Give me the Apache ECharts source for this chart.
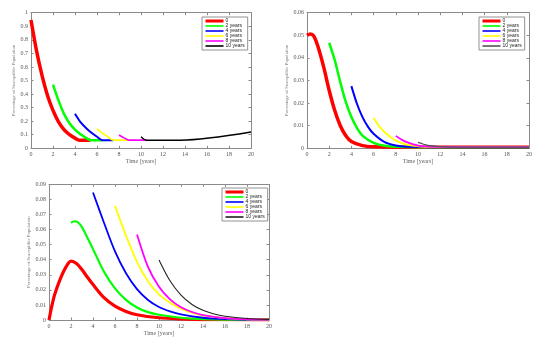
<!DOCTYPE html>
<html><head><meta charset="utf-8">
<script src="https://cdn.jsdelivr.net/npm/echarts@6/dist/echarts.min.js"></script>
<style>html,body{margin:0;padding:0;background:#fff}#c{width:548px;height:344px}</style>
</head><body><div id="c"></div>
<script>
const names = ['0','2 years','4 years','6 years','8 years','10 years'];
const xTicks = {min:0, max:20, interval:2};
const yTicksA = {min:0, max:1, interval:0.1};
const yTicksB = {min:0, max:0.06, interval:0.01};
const yTicksC = {min:0, max:0.09, interval:0.01};
const xName = 'Time [years]';
const yName = 'Percentage of Susceptible Population';

// Panel A (top-left)
const A0  = [[0,.946],[.5,.72],[1,.538],[1.5,.39],[2,.28],[2.5,.195],[3,.138],[3.5,.101],[4,.075],[4.4,.06],[5.4,.06]];
const A2  = [[2,.47],[2.5,.353],[3,.254],[3.5,.185],[4,.138],[4.5,.103],[5,.077],[5.4,.06],[6.5,.06]];
const A4  = [[4,.255],[4.5,.193],[5,.15],[5.5,.114],[6,.085],[6.5,.06],[7.5,.06]];
const A6  = [[6,.145],[6.5,.111],[7,.085],[7.5,.06],[8.9,.06]];
const A8  = [[8,.098],[8.5,.075],[8.9,.06],[10.5,.06]];
const A10 = [[10,.085],[10.5,.06],[13.6,.06],[20,.12]];

// Panel B (top-right)
const B0  = [[0,.050],[.3,.0506],[.6,.0497],[1,.0448],[1.5,.036],[2,.0256],[2.5,.0167],[3,.0100],[3.5,.0056],[4,.0030],[5,.0012],[6,.0007],[8,.0005],[20,.0005]];
const B2  = [[2,.0467],[2.5,.039],[3,.0293],[3.5,.0204],[4,.0138],[4.5,.0090],[5,.0056],[6,.0024],[7,.0011],[8,.0007],[10,.0005],[20,.0005]];
const B4  = [[4,.0275],[4.5,.0197],[5,.0138],[5.5,.0095],[6,.0064],[7,.0027],[8,.0012],[9,.0007],[11,.0005],[20,.0005]];
const B6  = [[6,.0135],[6.5,.0098],[7,.0071],[8,.0034],[9,.0016],[10,.0009],[11,.0006],[20,.0005]];
const B8  = [[8,.0055],[8.5,.0039],[9,.0027],[10,.0012],[11,.0008],[12,.0006],[20,.0005]];
const B10 = [[10,.0026],[10.5,.0018],[11,.0012],[12,.0007],[13,.0005],[20,.0005]];

// Panel C (bottom)
const C0  = [[0,0],[.25,.009],[.5,.0165],[1,.0268],[1.5,.0346],[2,.039],[2.5,.0374],[3,.0333],[3.5,.0283],[4,.0235],[5,.0148],[6,.0092],[7,.0057],[8,.0035],[10,.0015],[12,.0007],[14,.0003],[20,.0001]];
const C2  = [[2,.0645],[2.3,.0655],[2.6,.065],[3,.0615],[4,.047],[5,.032],[6,.021],[7,.0134],[8,.0083],[9,.0052],[10,.0035],[12,.0015],[14,.0006],[20,.0001]];
const C4  = [[4,.0846],[5,.0645],[6,.0455],[7,.031],[8,.0205],[9,.0133],[10,.0086],[11,.0057],[12,.0037],[14,.0015],[16,.0006],[20,.0001]];
const C6  = [[6,.0757],[7,.056],[8,.0385],[9,.0255],[10,.017],[11,.0114],[12,.0075],[13,.0048],[14,.003],[16,.0012],[18,.0005],[20,.0002]];
const C8  = [[8,.0567],[9,.0352],[10,.022],[11,.0137],[12,.0085],[13,.0053],[14,.0033],[16,.0013],[18,.0005],[20,.0002]];
const C10 = [[10,.0398],[11,.026],[12,.0165],[13,.0103],[14,.0064],[15,.004],[16,.0025],[18,.001],[20,.0004]];

const panels = [
  {data:[A0,A2,A4,A6,A8,A10], y:yTicksA, grid:{left:31, top:12.7, width:220, height:135.6}, legend:{left:202, top:17}, colors:['#ff0000','#00ff00','#0000ff','#ffff00','#ff00ff','#000000'], widths:[3.5,2.5,2,1.6,1.6,1.5]},
  {data:[B0,B2,B4,B6,B8,B10], y:yTicksB, grid:{left:307, top:12.7, width:222, height:135.6}, legend:{left:479, top:17}, colors:['#ff0000','#00ff00','#0000ff','#ffff00','#ff00ff','#555555'], widths:[3.5,2.5,2,1.8,1.8,1.2]},
  {data:[C0,C2,C4,C6,C8,C10], y:yTicksC, grid:{left:49, top:184.3, width:220, height:135.7}, legend:{left:222, top:188}, colors:['#ff0000','#00ff00','#0000ff','#ffff00','#ff00ff','#222222'], widths:[3.2,2.2,1.8,1.8,1.8,1.1]}
];

const axisColor = '#8a8a8a';
const serif = 'Liberation Serif';
const grids=[], xAxes=[], yAxes=[], series=[], legends=[];
panels.forEach((p, gi) => {
  grids.push(Object.assign({containLabel:false}, p.grid));
  const common = {gridIndex:gi, type:'value', splitLine:{show:false},
    axisLine:{show:true, onZero:false, lineStyle:{color:axisColor, width:1}},
    axisTick:{show:true, inside:true, length:2.5, lineStyle:{color:axisColor}}};
  xAxes.push(Object.assign({}, common, xTicks, {position:'bottom', name:xName, nameLocation:'middle', nameGap:10,
    nameTextStyle:{fontSize:6, color:'#666', fontFamily:serif},
    axisLabel:{fontSize:6, color:'#555', margin:3, fontFamily:serif}}));
  xAxes.push(Object.assign({}, common, xTicks, {position:'top', axisLabel:{show:false}}));
  yAxes.push(Object.assign({}, common, p.y, {position:'left', name:yName, nameLocation:'middle', nameGap:gi===0?13:18,
    nameTextStyle:{fontSize:4.8, color:'#777', fontFamily:serif},
    axisLabel:{fontSize:6, color:'#555', margin:3, fontFamily:serif}}));
  yAxes.push(Object.assign({}, common, p.y, {position:'right', axisLabel:{show:false}}));
  p.data.forEach((d, si) => {
    series.push({type:'line', name:names[si], xAxisIndex:gi*2, yAxisIndex:gi*2, data:d,
      symbol:'none', smooth:0.3, z:2+si,
      lineStyle:{color:p.colors[si], width:p.widths[si]}, itemStyle:{color:p.colors[si]}});
  });
  legends.push({orient:'vertical', left:p.legend.left, top:p.legend.top, padding:[1.5,3,1.5,2],
    itemGap:0, itemWidth:18, itemHeight:4, selectedMode:false,
    backgroundColor:'#fff', borderColor:'#777', borderWidth:0.8,
    textStyle:{fontSize:5, lineHeight:4, color:'#222', fontFamily:'Liberation Sans', padding:[0,0,0,-3]},
    data:names.map((n,si)=>({name:n, lineStyle:{color:p.colors[si], width:si===0?3:1.6}, itemStyle:{color:p.colors[si], opacity:0}}))});
});

const chart = echarts.init(document.getElementById('c'), null, {renderer:'canvas'});
chart.setOption({animation:false, backgroundColor:'#fff', grid:grids, xAxis:xAxes, yAxis:yAxes, legend:legends, series:series});
</script></body></html>
